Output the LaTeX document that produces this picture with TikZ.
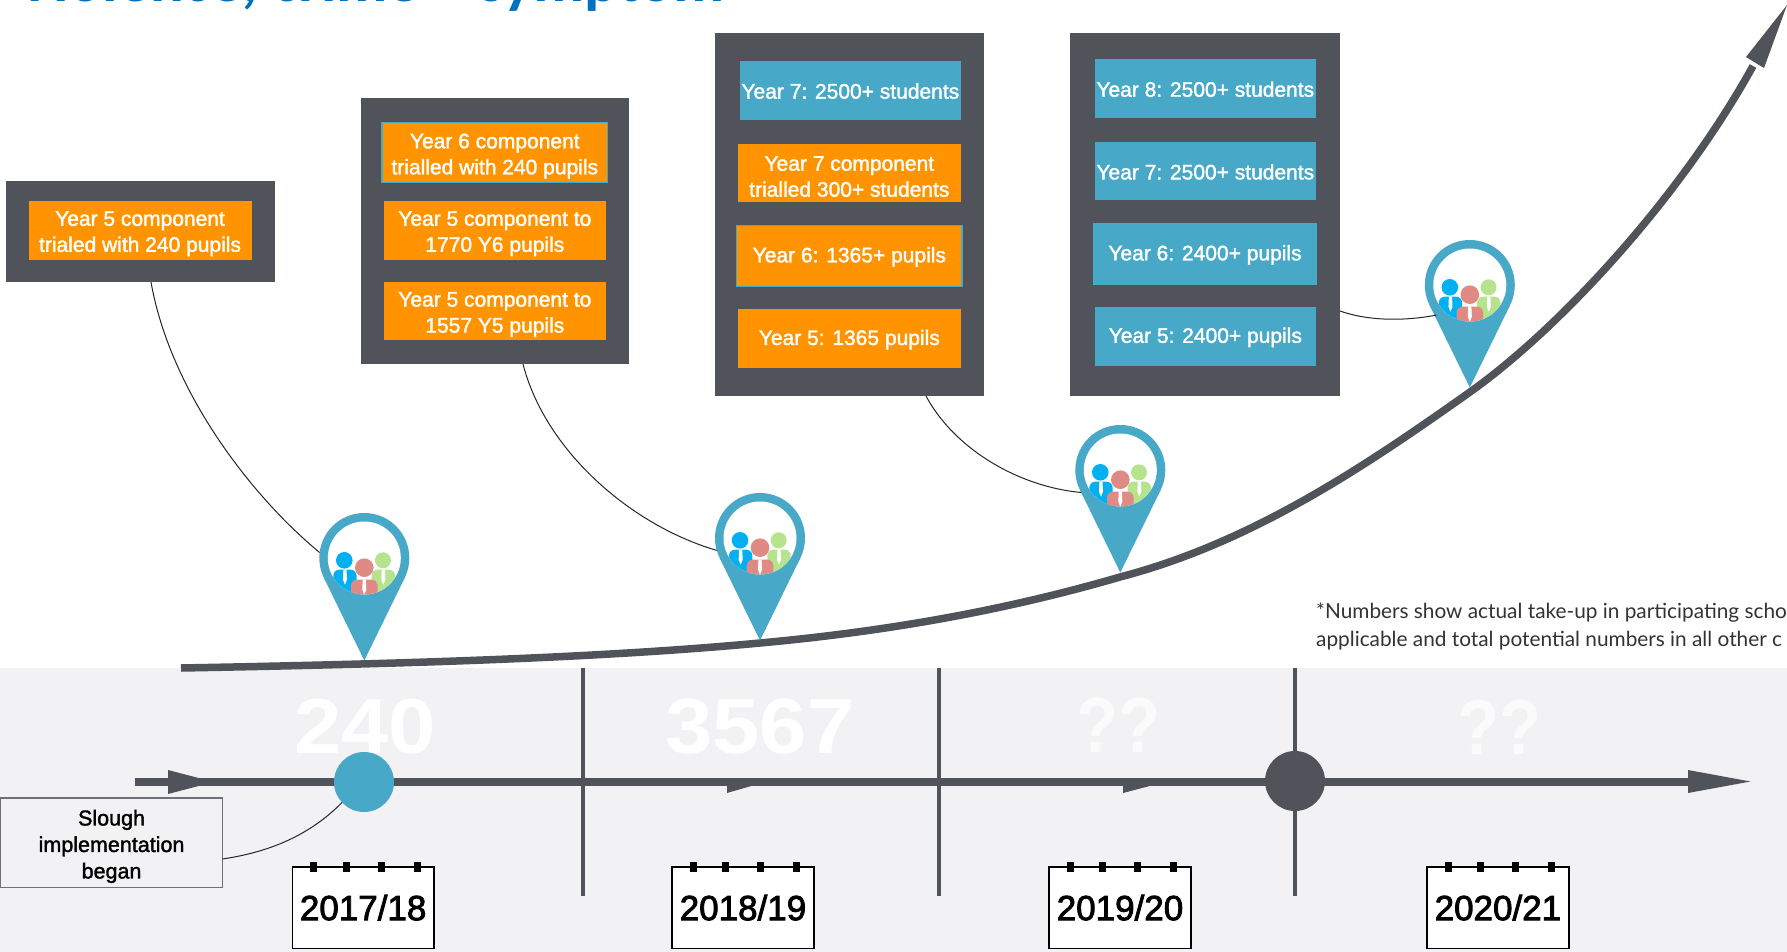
\documentclass[tikz,border=0pt]{standalone}
\usepackage{fontspec}
\setmainfont{Liberation Sans}
\newfontfamily\titlefont{Carlito}
\newfontfamily\notefont{Lato}
\newfontfamily\semifont{Liberation Sans}[FakeBold=1.6]
\newfontfamily\cardfont{Liberation Sans}[FakeBold=2.4]
\newfontfamily\wideb{Liberation Sans Bold}[FakeStretch=1.09]
\newfontfamily\narrowb{Liberation Sans Bold}[FakeStretch=0.88]
\definecolor{dark}{HTML}{50535A}
\definecolor{teal}{HTML}{47A8C8}
\definecolor{orng}{HTML}{FF9400}
\definecolor{band}{HTML}{F2F2F4}
\definecolor{pblue}{HTML}{00B0F0}
\definecolor{pred}{HTML}{E08A85}
\definecolor{pgreen}{HTML}{B5E48C}
\definecolor{titleblue}{HTML}{0070C0}
\definecolor{slborder}{HTML}{6E7278}
\newcommand{\twoup}{\rule{0pt}{21.5pt}}
\newcommand{\oneup}{\rule{0pt}{17pt}}
\tikzset{
  panel/.style={fill=dark,inner sep=0pt,outer sep=0pt},
  orngbox/.style={fill=orng,text=white,align=center,inner sep=0pt,outer sep=0pt,font=\semifont\fontsize{21}{26}\selectfont},
  orngedge/.style={orngbox,draw=teal,line width=1.5pt},
  tealbox/.style={fill=teal,text=white,align=center,inner sep=0pt,outer sep=0pt,font=\semifont\fontsize{21}{26}\selectfont},
  leader/.style={draw=black!85,line width=1pt},
  calbox/.style={draw=black,line width=1.6pt,fill=white,inner sep=0pt,outer sep=0pt,font=\cardfont\fontsize{35}{40}\selectfont},
  bignum/.style={text=white,font=\wideb\fontsize{78}{80}\selectfont,inner sep=0pt},
  bigq/.style={text=white!70!band,font=\narrowb\fontsize{78}{80}\selectfont,inner sep=0pt},
  divider/.style={draw=dark,line width=4pt},
  slbox/.style={draw=slborder,line width=1.3pt,fill=band,align=center,inner sep=0pt,outer sep=0pt,font=\semifont\fontsize{21.5}{26.5}\selectfont},
  notetext/.style={anchor=base west,inner sep=0pt,text=black!80,font=\notefont\fontsize{20.8}{28}\selectfont},
}
\newcommand{\rbox}[7]{%
  \pgfmathsetmacro{\rw}{#4-#2}\pgfmathsetmacro{\rh}{#5-#3}%
  \pgfmathsetmacro{\rx}{(#2+#4)/2}\pgfmathsetmacro{\ry}{(#3+#5)/2}%
  \node[#6,minimum width=\rw pt,minimum height=\rh pt] (#1) at (\rx,\ry) {#7};}
\newcommand{\person}[7]{% colour, head x, head y, head r, body x1, body x2, body y1
  \fill[#1] (#2,#3) circle[radius=#4];
  \fill[#1,rounded corners=6pt] (#5,#7) rectangle (#6,48);
  \pgfmathsetmacro{\tx}{(#5+#6)/2}
  \fill[white] (\tx-1.6,#7) -- (\tx+1.6,#7) -- (\tx+2,#7+10) -- (\tx,#7+15) -- (\tx-2,#7+10) -- cycle;}
\newcommand{\mappin}[3]{% name, centre x, centre y
  \node[circle,minimum size=90pt,inner sep=0pt,outer sep=0pt] (#1) at (#2,#3) {};
  \begin{scope}[shift={(#2,#3)}]
    \fill[teal] (0,102.5) -- (-40.4,19.9) -- (40.4,19.9) -- cycle;
    \fill[teal] (0,0) circle[radius=45];
    \fill[white] (0,0) circle[radius=36.5];
    \begin{scope}
      \clip (0,0) circle[radius=36.5];
      \person{pgreen}{18.7}{2.3}{8}{7.3}{30.7}{11.7}
      \person{pblue}{-20}{2.3}{8.3}{-31}{-7.7}{11.7}
      \person{pred}{0}{9.7}{9.3}{-13.3}{13.3}{21.7}
    \end{scope}
  \end{scope}}
\newcommand{\yearcard}[4]{% name, left, right, label
  \rbox{#1}{#2}{867}{#3}{948.3}{calbox}{#4}
  \foreach \off in {21.5,53.7,88.8,124.7}
    \fill[black] (#2+\off-3.5,862) rectangle (#2+\off+3.5,872);}
\begin{document}
\begin{tikzpicture}[x=1pt,y=-1pt]
\useasboundingbox (0,0) rectangle (1787,952);
\fill[white] (0,0) rectangle (1787,952);
% band
\fill[band] (0,667.5) rectangle (1787,952);
% title
\node[anchor=base west,inner sep=0pt,text=titleblue,font=\titlefont\bfseries\fontsize{63}{66}\selectfont] (title) at (16,1.5) {Violence, crime – symptom};
% panels
\rbox{p1}{5.6}{181}{274.5}{281.7}{panel}{}
\rbox{p1a}{28.6}{200.7}{251.5}{259.7}{orngbox}{\twoup Year 5 component\\trialed with 240 pupils}
\rbox{p2}{360.7}{98.3}{629}{364}{panel}{}
\rbox{p2a}{382}{122.7}{607.6}{182.7}{orngedge}{\twoup Year 6 component\\trialled with 240 pupils}
\rbox{p2b}{383.7}{200.7}{606}{259.7}{orngbox}{\twoup Year 5 component to\\1770 Y6 pupils}
\rbox{p2c}{383.7}{281.7}{606}{340.3}{orngbox}{\twoup Year 5 component to\\1557 Y5 pupils}
\rbox{p3}{715.3}{33}{983.5}{395.7}{panel}{}
\rbox{p3a}{740}{60.7}{960.7}{119.7}{tealbox}{\oneup Year 7: 2500+ students}
\rbox{p3b}{738}{143.7}{960.7}{202.3}{orngbox}{\twoup Year 7 component\\trialled 300+ students}
\rbox{p3c}{736.7}{225.3}{962}{286.7}{orngedge}{\oneup Year 6: 1365+ pupils}
\rbox{p3d}{738}{309.3}{960.7}{368}{orngbox}{\oneup Year 5: 1365 pupils}
\rbox{p4}{1069.5}{33}{1339.9}{395.7}{panel}{}
\rbox{p4a}{1095}{59}{1315.6}{117.7}{tealbox}{\oneup Year 8: 2500+ students}
\rbox{p4b}{1095}{141.7}{1315.6}{200.3}{tealbox}{\oneup Year 7: 2500+ students}
\rbox{p4c}{1093}{222.7}{1317}{285.3}{tealbox}{\oneup Year 6: 2400+ pupils}
\rbox{p4d}{1095}{307}{1315.6}{366}{tealbox}{\oneup Year 5: 2400+ pupils}
% growth curve
\draw[dark,line width=7.5pt] (181,668) .. controls (400,664) and (600,658) .. (760,643)
  .. controls (880,632) and (1000,612) .. (1120,577)
  .. controls (1250,543) and (1360,470) .. (1470,392)
  .. controls (1560,328) and (1680,198) .. (1753,66);
\fill[dark] (1787,5) -- (1764,68) -- (1754,62) -- (1746,57) -- cycle;
% pins
\mappin{pin1}{364.3}{558}
\mappin{pin2}{760}{538}
\mappin{pin3}{1120.3}{470}
\mappin{pin4}{1469.8}{285}
% leaders
\coordinate (a1) at (151,282);
\coordinate (a2) at (523,364);
\coordinate (a3) at (926,396);
\coordinate (a4) at (1340,311);
\draw[leader] (a1) .. controls (170,390) and (250,495) .. (pin1.173);
\draw[leader] (a2) .. controls (545,450) and (630,525) .. (pin2.196);
\draw[leader] (a3) .. controls (955,450) and (1020,487) .. (pin3.210);
\draw[leader] (a4) .. controls (1365,320) and (1400,322) .. (pin4.222);
% dividers
\coordinate (d1t) at (583,667.5); \coordinate (d1b) at (583,896);
\coordinate (d2t) at (939,667.5); \coordinate (d2b) at (939,896);
\coordinate (d3t) at (1295,667.5); \coordinate (d3b) at (1295,896);
\draw[divider] (d1t) -- (d1b);
\draw[divider] (d2t) -- (d2b);
\draw[divider] (d3t) -- (d3b);
% big numbers
\node[bignum] (n1) at (365,727) {240};
\node[bignum] (n2) at (760,727) {3567};
\node[bigq] (n3) at (1118,725) {??};
\node[bigq] (n4) at (1499.5,727) {??};
% timeline
\coordinate (t0) at (135,782); \coordinate (t1) at (1700,782);
\draw[dark,line width=8.5pt] (t0) -- (t1);
\fill[dark] (168,770) -- (214,782) -- (168,794) -- cycle;
\fill[dark] (727,782) -- (765,782) -- (727,793) -- cycle;
\fill[dark] (1123,782) -- (1165,782) -- (1123,793) -- cycle;
\fill[dark] (1688,770) -- (1750.5,781.5) -- (1688,793) -- cycle;
\node[circle,fill=teal,minimum size=60pt,inner sep=0pt,outer sep=0pt] (dotA) at (364,782) {};
\node[circle,fill=dark,minimum size=60pt,inner sep=0pt,outer sep=0pt] (dotB) at (1295,781) {};
% Slough
\rbox{sl}{0.7}{798}{222.4}{887.7}{slbox}{\rule{0pt}{22.7pt}Slough\\implementation\\began}
\coordinate (s1) at (222.4,859);
\draw[leader] (s1) .. controls (270,852) and (310,835) .. (dotA.223);
% year cards
\yearcard{c1}{292.3}{434}{2017/18}
\yearcard{c2}{672}{814}{2018/19}
\yearcard{c3}{1049}{1191}{2019/20}
\yearcard{c4}{1427}{1568.8}{2020/21}
% footnote
\node[notetext] (fn1) at (1316,618) {*Numbers show actual take-up in participating scho};
\node[notetext] (fn2) at (1316,646) {applicable and total potential numbers in all other c};
\end{tikzpicture}
\end{document}
